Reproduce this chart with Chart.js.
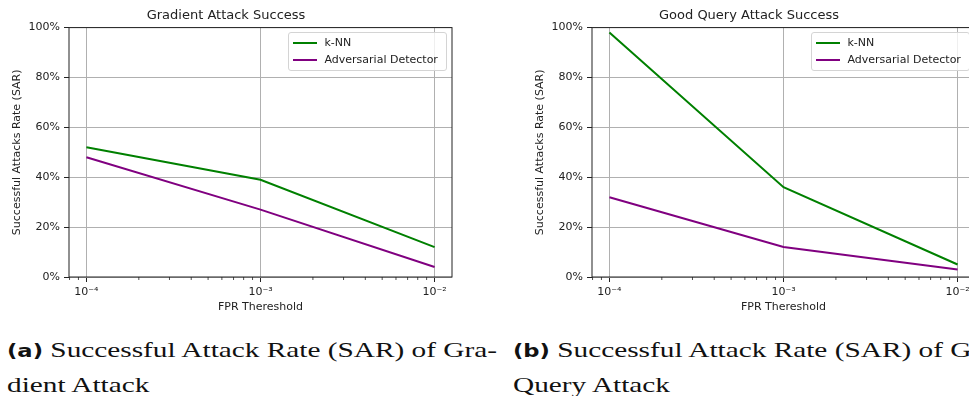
<!DOCTYPE html>
<html>
<head>
<meta charset="utf-8">
<script src="https://cdn.jsdelivr.net/npm/chart.js@4.4.1/dist/chart.umd.min.js"></script>
<style>
  html, body { margin: 0; padding: 0; background: #fff; }
  body { width: 969px; height: 396px; overflow: hidden; position: relative; }
  .panel { position: absolute; top: 0; width: 470px; height: 320px; }
  .legend {
    position: absolute; box-sizing: border-box; width: 159px;
    border: 1px solid #d4d4d4; border-radius: 3px; background: rgba(255,255,255,0.8);
    padding: 1px 4px 2px 4px; font: 11px "DejaVu Sans", sans-serif; color: #222;
  }
  .legend .row { height: 17px; display: flex; align-items: center; white-space: nowrap; }
  .legend .sw { width: 24px; height: 2px; margin-right: 8px; }
  .caption {
    position: absolute; top: 333px; font: 22px "Liberation Serif", serif; color: #111;
    line-height: 33px; white-space: nowrap; transform-origin: 0 0;
  }
  .caption b { font-family: "DejaVu Sans", sans-serif; font-weight: bold; font-size: 21px; }
</style>
</head>
<body>
<div class="panel" id="p1" style="left:0px"><canvas id="c1" width="470" height="320"></canvas></div>
<div class="panel" id="p2" style="left:523px"><canvas id="c2" width="470" height="320"></canvas></div>

<div class="caption" id="capA" style="left:7px"><span class="l1"><b>(a)</b> Successful Attack Rate (SAR) of Gra-</span><br>dient Attack</div>
<div class="caption" id="capB" style="left:513px"><span class="l1"><b>(b)</b> Successful Attack Rate (SAR) of Good</span><br>Query Attack</div>

<script>
// FPR thresholds (x) and success rates in percent (y)
const thresholds = [1e-4, 1e-3, 1e-2];
const xTickLabels = ['10\u207B\u2074', '10\u207B\u00B3', '10\u207B\u00B2'];
const seriesNames = ['k-NN', 'Adversarial Detector'];
const seriesColors = ['#008000', '#800080'];
const gradientKnn = [52, 39, 12];
const gradientDetector = [48, 27, 4];
const queryKnn = [98, 36, 5];
const queryDetector = [32, 12, 3];
const yTickValues = [0, 20, 40, 60, 80, 100];

const TEXT = '#222';
const FONT = '"DejaVu Sans", sans-serif';
const minorTicks = [];
for (let e = -5; e <= -2; e++) for (let m = 2; m <= 9; m++) minorTicks.push(m * Math.pow(10, e));

// short minor tick marks on the log axis and the full frame around the plot
const framePlugin = {
  id: 'frame',
  afterDatasetsDraw(chart) {
    const { ctx, chartArea: a, scales: { x } } = chart;
    ctx.save();
    ctx.strokeStyle = TEXT;
    ctx.lineWidth = 1;
    ctx.strokeRect(a.left, a.top, a.right - a.left, a.bottom - a.top);
    ctx.lineWidth = 0.8;
    ctx.beginPath();
    minorTicks.forEach(v => {
      if (v < x.min || v > x.max) return;
      const px = x.getPixelForValue(v);
      ctx.moveTo(px, a.bottom);
      ctx.lineTo(px, a.bottom + 3);
    });
    ctx.stroke();
    ctx.restore();
  }
};

function makeChart(canvasId, panelId, title, knn, detector) {
  const values = [knn, detector];
  const chart = new Chart(document.getElementById(canvasId), {
    type: 'line',
    data: {
      datasets: seriesNames.map((name, i) => ({
        label: name,
        data: thresholds.map((t, j) => ({ x: t, y: values[i][j] })),
        borderColor: seriesColors[i],
        backgroundColor: seriesColors[i],
        borderWidth: 2,
        pointRadius: 0,
        tension: 0,
        fill: false
      }))
    },
    options: {
      responsive: false,
      animation: false,
      layout: { padding: { left: 0, right: 18, top: 0, bottom: 0 } },
      plugins: {
        legend: { display: false },
        tooltip: { enabled: false },
        title: {
          display: true, text: title, color: TEXT,
          font: { family: FONT, size: 13, weight: 'normal', lineHeight: 1.2 },
          padding: { top: 8, bottom: 4 }
        }
      },
      scales: {
        x: {
          type: 'logarithmic',
          min: Math.pow(10, -4.1),
          max: Math.pow(10, -1.9),
          afterBuildTicks(scale) { scale.ticks = thresholds.map(v => ({ value: v })); },
          afterFit(scale) { scale.height = 43; },
          ticks: {
            color: TEXT, font: { family: FONT, size: 11 }, padding: 4,
            maxRotation: 0, autoSkip: false,
            callback: (v, i) => xTickLabels[i]
          },
          grid: { color: '#b0b0b0', lineWidth: 1, drawTicks: true, tickLength: 5, tickColor: TEXT },
          border: { display: false },
          title: {
            display: true, text: 'FPR Thereshold', color: TEXT,
            font: { family: FONT, size: 11, lineHeight: 1.2 },
            padding: { top: 0, bottom: 6 }
          }
        },
        y: {
          min: 0, max: 100,
          afterBuildTicks(scale) { scale.ticks = yTickValues.map(v => ({ value: v })); },
          afterFit(scale) { scale.width = 69; },
          ticks: {
            color: TEXT, font: { family: FONT, size: 11 }, padding: 4,
            callback: v => v + '%'
          },
          grid: { color: '#b0b0b0', lineWidth: 1, drawTicks: true, tickLength: 5, tickColor: TEXT },
          border: { display: false },
          title: {
            display: true, text: 'Successful Attacks Rate (SAR)', color: TEXT,
            font: { family: FONT, size: 11, lineHeight: 1.2 },
            padding: { top: 11, bottom: 0 }
          }
        }
      }
    },
    plugins: [framePlugin]
  });

  // legend box in the upper right corner of the plot
  const a = chart.chartArea;
  const box = document.createElement('div');
  box.className = 'legend';
  seriesNames.forEach((name, i) => {
    const row = document.createElement('div');
    row.className = 'row';
    const sw = document.createElement('span');
    sw.className = 'sw';
    sw.style.background = seriesColors[i];
    const tx = document.createElement('span');
    tx.textContent = name;
    row.appendChild(sw);
    row.appendChild(tx);
    box.appendChild(row);
  });
  const panel = document.getElementById(panelId);
  panel.appendChild(box);
  box.style.left = (a.right - 5.5 - box.offsetWidth) + 'px';
  box.style.top = (a.top + 4.5) + 'px';
  return chart;
}

makeChart('c1', 'p1', 'Gradient Attack Success', gradientKnn, gradientDetector);
makeChart('c2', 'p2', 'Good Query Attack Success', queryKnn, queryDetector);

// stretch the captions to the column width, keeping the bold label at its own width
const caps = document.querySelectorAll('.caption');
const capA = document.getElementById('capA');
const line = capA.querySelector('.l1');
const bold = capA.querySelector('b');
let s = 1;
for (let k = 0; k < 3; k++) {
  s = 490 / line.getBoundingClientRect().width;
  const bw = bold.getBoundingClientRect().width;
  const size = parseFloat(getComputedStyle(bold).fontSize) * (36 / s) / bw;
  caps.forEach(c => { c.querySelector('b').style.fontSize = size + 'px'; });
}
s = 490 / line.getBoundingClientRect().width;
caps.forEach(c => { c.style.transform = 'scaleX(' + s + ')'; });
</script>
</body>
</html>
